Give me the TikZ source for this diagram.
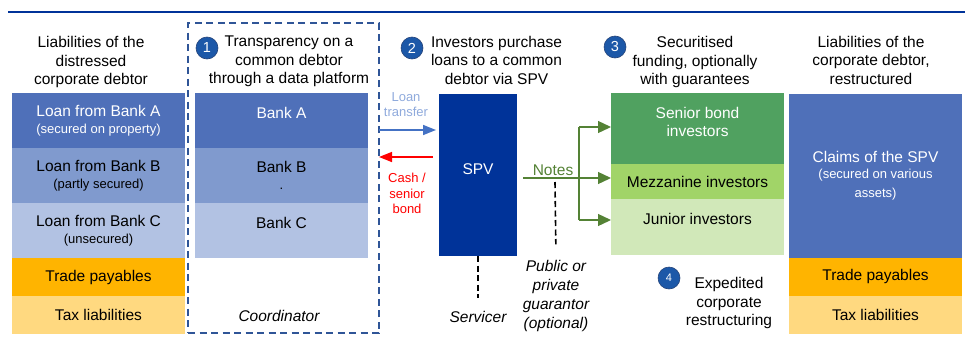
\documentclass[tikz,border=0pt]{standalone}
\usepackage{fontspec}
\setmainfont{Liberation Sans}
\usepackage{xcolor}
\usetikzlibrary{arrows.meta,positioning}

\definecolor{rowA}{RGB}{79,112,185}
\definecolor{rowB}{RGB}{128,154,206}
\definecolor{rowC}{RGB}{178,194,227}
\definecolor{trade}{RGB}{255,180,0}
\definecolor{tax}{RGB}{255,217,128}
\definecolor{spvblue}{RGB}{0,51,153}
\definecolor{senior}{RGB}{80,161,96}
\definecolor{mezz}{RGB}{161,212,104}
\definecolor{junior}{RGB}{209,232,185}
\definecolor{frame}{RGB}{47,85,151}
\definecolor{transfer}{RGB}{68,114,196}
\definecolor{transfertext}{RGB}{143,170,220}
\definecolor{notes}{RGB}{84,130,53}
\definecolor{ball}{RGB}{28,88,168}

\newcommand{\subtext}[1]{{\fontsize{13}{16}\selectfont #1}}

\begin{document}
\begin{tikzpicture}[x=1pt,y=-1pt,
    every node/.style={font=\fontsize{15.5}{18.5}\selectfont, outer sep=0pt},
    layer/.style={minimum width=173pt, inner sep=0pt, align=center},
    head/.style={align=center},
    ballnum/.style={circle, fill=ball, draw=frame!80!black, line width=0.6pt, text=white,
        minimum size=22pt, inner sep=0pt, font=\fontsize{14.5}{14.5}\selectfont},
    sidenote/.style={align=center, font=\fontsize{13}{15.5}\selectfont},
    flow/.style={line width=1.5pt, -{Triangle[length=13pt,width=10pt]}},
    noteline/.style={draw=notes, line width=1.3pt},
    notearrow/.style={noteline, -{Triangle[length=13pt,width=12pt]}},
    helper/.style={dash pattern=on 6pt off 3.5pt, line width=1.6pt}
]
\useasboundingbox (0,0) rectangle (965,351);

\draw[spvblue, line width=1.5pt] (8,12) -- (965,12);

% liabilities before
\node[head] (headL) at (91,62) {Liabilities of the\\distressed\\corporate debtor};
\node[layer, fill=rowA, text=white, minimum height=55pt] (loanA) at (98.5,120.5)
    {Loan from Bank A\\[-2pt]\subtext{(secured on property)}};
\node[layer, fill=rowB, minimum height=55pt, below=0pt of loanA] (loanB)
    {Loan from Bank B\\[-1pt]\subtext{(partly secured)}};
\node[layer, fill=rowC, minimum height=55pt, below=0pt of loanB] (loanC)
    {Loan from Bank C\\[-2pt]\subtext{(unsecured)}};
\node[layer, fill=trade, minimum height=38pt, below=0pt of loanC] (tradeL) {Trade payables};
\node[layer, fill=tax, minimum height=38pt, below=0pt of tradeL] (taxL) {Tax liabilities};

% coordinator
\node[draw=frame, line width=2pt, dash pattern=on 7pt off 4.5pt,
    minimum width=191pt, minimum height=310pt, inner sep=0pt] (platform) at (283.5,178) {};
\node[ballnum] (one) at (207,48) {1};
\node[head] (headP) at (289,61.5) {Transparency on a\\common debtor\\through a data platform};
\node[layer, fill=rowA, text=white, minimum height=55pt, text depth=16pt] (bankA) at (281.5,120.5)
    {Bank A};
\node[layer, fill=rowB, minimum height=55pt, below=0pt of bankA] (bankB)
    {Bank B\\[-1pt]\subtext{.}};
\node[layer, fill=rowC, minimum height=55pt, text depth=16pt, below=0pt of bankB] (bankC)
    {Bank C};
\node[font=\fontsize{15.5}{18.5}\selectfont\itshape] (coordinator) at (279,316) {Coordinator};

% SPV
\node[ballnum] (two) at (412,48) {2};
\node[head] (headS) at (496.5,60) {Investors purchase\\loans to a common\\debtor via SPV};
\node[fill=spvblue, text=white, minimum width=78pt, minimum height=162pt, inner sep=0pt,
    text depth=11pt] (spv) at (478,175) {SPV};
\node[sidenote, text=transfertext] (loantext) at (406,104.5) {Loan\\transfer};
\node[sidenote, text=red] (cashtext) at (407,193.5) {Cash /\\senior\\bond};
\draw[flow, transfer, shorten >=3pt] (platform.east |- 0,130) -- (spv.west |- 0,130);
\draw[flow, red, shorten <=6pt] (spv.west |- 0,157) -- (platform.east |- 0,157);
\node[font=\fontsize{15.5}{18.5}\selectfont\itshape] (servicer) at (478,317) {Servicer};
\draw[helper, shorten >=10pt] (spv.south) -- (servicer.north);

% securitised funding
\node[ballnum] (three) at (615,47) {3};
\node[head] (headF) at (695,62) {Securitised\\funding, optionally\\with guarantees};
\node[layer, fill=senior, text=white, minimum height=71pt, text depth=13pt] (seniorbox) at (697.5,128.5)
    {Senior bond\\investors};
\node[layer, fill=mezz, minimum height=35pt, below=0pt of seniorbox] (mezzbox) {Mezzanine investors};
\node[layer, fill=junior, minimum height=56pt, text depth=17pt, below=0pt of mezzbox] (juniorbox)
    {Junior investors};
\coordinate (split) at (579,178);
\coordinate (jr) at (611,220);
\draw[notearrow, shorten <=6pt] (spv.east |- split) -- (mezzbox.west |- split);
\node[text=notes] (notestext) at (553,170) {Notes};
\draw[noteline] (split |- 0,127) -- (split |- jr);
\draw[notearrow] (split |- 0,127) -- (seniorbox.west |- 0,127);
\draw[notearrow] (split |- jr) -- (jr);
\coordinate (gtop) at (555,182);
\node[head, font=\fontsize{15.5}{18.7}\selectfont\itshape] (guarantor) at (556,296)
    {Public or\\private\\guarantor\\(optional)};
\draw[helper, shorten >=13pt] (gtop) -- (guarantor.north);

% restructured
\node[ballnum, font=\fontsize{11}{11}\selectfont] (four) at (669,278) {4};
\node[head] (headE) at (729,303) {Expedited\\corporate\\restructuring};
\node[head] (headR) at (871,60) {Liabilities of the\\corporate debtor,\\restructured};
\node[layer, fill=rowA, text=white, minimum height=164pt] (claims) at (875.5,175.5)
    {Claims of the SPV\\[-2pt]\subtext{(secured on various}\\\subtext{assets)}};
\node[layer, fill=trade, minimum height=38pt, below=0pt of claims] (tradeR) {Trade payables};
\node[layer, fill=tax, minimum height=38pt, below=0pt of tradeR] (taxR) {Tax liabilities};
\end{tikzpicture}
\end{document}
